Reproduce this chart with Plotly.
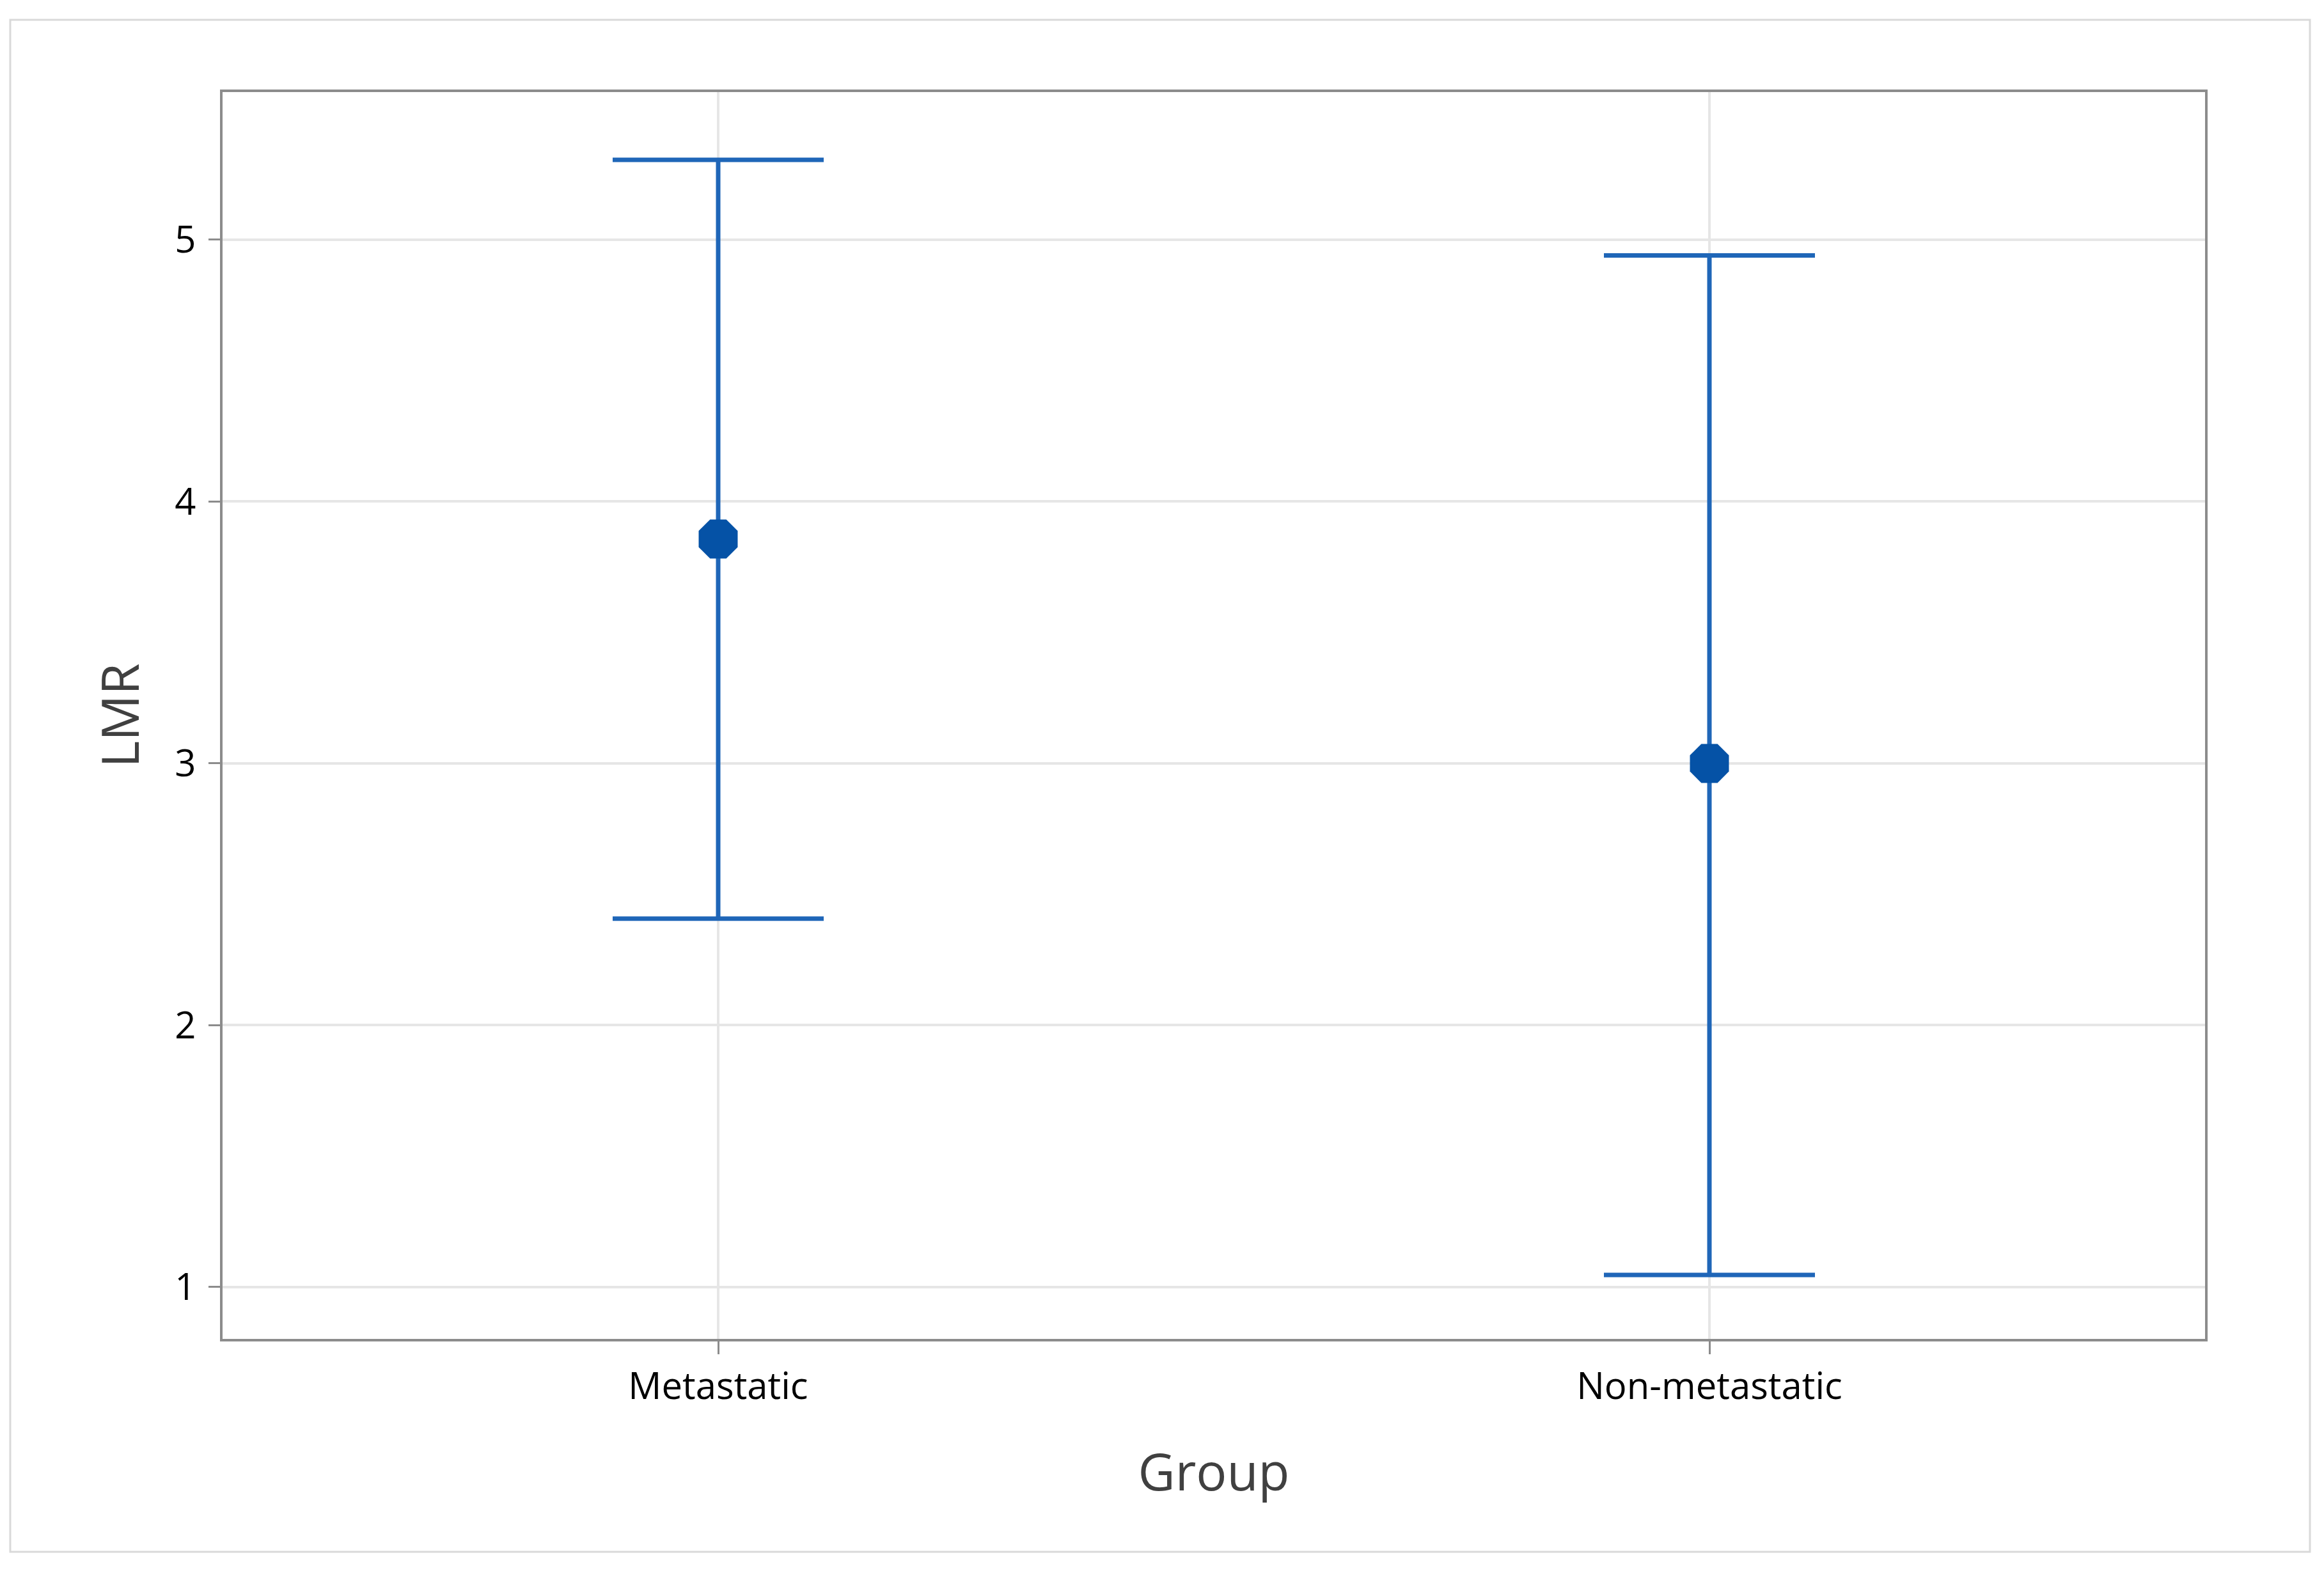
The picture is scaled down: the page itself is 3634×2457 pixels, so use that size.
import plotly.graph_objects as go

groups = ["Metastatic", "Non-metastatic"]
means = [3.857, 3.0]
lower = [2.407, 1.046]
upper = [5.305, 4.94]
y_ticks = [1, 2, 3, 4, 5]

err_plus = [u - m for u, m in zip(upper, means)]
err_minus = [m - l for m, l in zip(means, lower)]

fig = go.Figure()
fig.add_trace(go.Scatter(
    x=groups, y=means, mode="markers",
    marker=dict(symbol="octagon", size=66, color="#0552a6", line=dict(width=0)),
    error_y=dict(type="data", symmetric=False, array=err_plus, arrayminus=err_minus,
                 color="#1f66b8", thickness=7, width=165),
    showlegend=False, hoverinfo="skip",
))

OFF = 8  # page body margin
W, H = 3634 - OFF, 2457 - OFF
L, R, T, B = 348 - OFF, 186, 144 - OFF, 363
pw, ph = W - L - R, H - T - B

def px_x(x):
    return (x - OFF - L) / pw

def px_y(y):
    return (H - B - (y - OFF)) / ph

fig.add_shape(type="rect", xref="paper", yref="paper",
              x0=px_x(16), x1=px_x(3612), y0=px_y(2427), y1=px_y(31),
              line=dict(color="#d9d9d9", width=3), fillcolor="rgba(0,0,0,0)", layer="below")

fig.update_layout(
    width=W, height=H,
    margin=dict(l=L, r=R, t=T, b=B),
    paper_bgcolor="white", plot_bgcolor="white",
    font=dict(family="Open Sans", color="#1a1a1a"),
    hovermode=False,
)
fig.update_xaxes(
    type="category", range=[-0.5, 1.5],
    showline=True, mirror=True, linecolor="#8c8c8c", linewidth=4,
    showgrid=True, gridcolor="#e6e6e6", gridwidth=4,
    ticks="outside", ticklen=20, tickwidth=3, tickcolor="#8c8c8c",
    tickfont=dict(size=58, color="#000000"),
    title=dict(text="Group", font=dict(size=80, color="#404040"), standoff=72),
    zeroline=False,
)
fig.update_yaxes(
    range=[0.802, 5.564], tickvals=y_ticks,
    showline=True, mirror=True, linecolor="#8c8c8c", linewidth=4,
    showgrid=True, gridcolor="#e6e6e6", gridwidth=4,
    ticks="outside", ticklen=18, tickwidth=3, tickcolor="#8c8c8c",
    ticklabelstandoff=8,
    tickfont=dict(size=58, color="#000000"),
    title=dict(text="LMR", font=dict(size=80, color="#404040"), standoff=30),
    zeroline=False,
)

fig.write_html("out.html")
